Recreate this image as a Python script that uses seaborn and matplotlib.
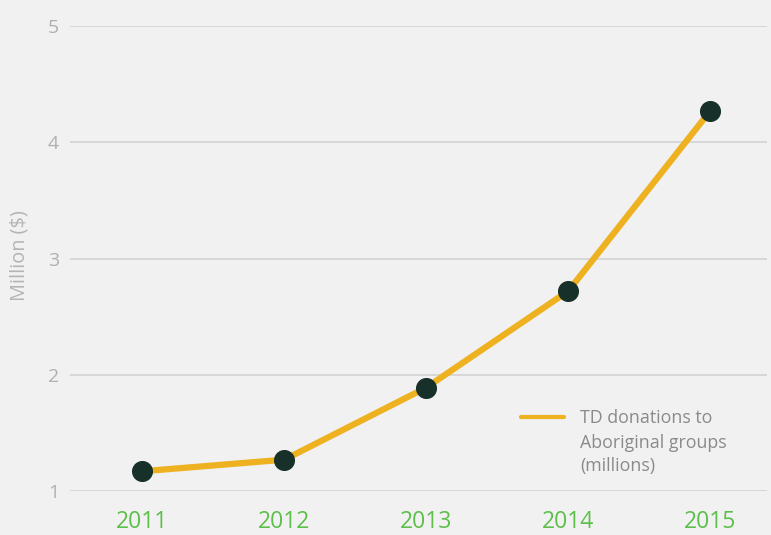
import matplotlib
matplotlib.use("Agg")
import matplotlib.pyplot as plt
import seaborn as sns
import pandas as pd

# data
years = [2011, 2012, 2013, 2014, 2015]
donations = [1.17, 1.27, 1.89, 2.72, 4.27]
y_ticks = [1, 2, 3, 4, 5]
legend_lines = ["TD donations to", "Aboriginal groups", "(millions)"]

df = pd.DataFrame({"year": years, "donations": donations})

sns.set_style("white")
plt.rcParams['font.family'] = ['Open Sans', 'DejaVu Sans']

bg = "#f1f1f1"
fig = plt.figure(figsize=(7.71, 5.35), dpi=100, facecolor=bg)
ax = fig.add_axes([0.0908, 0.0822, 0.904, 0.8692])
ax.set_facecolor(bg)

# gridlines
for t in y_ticks:
    ax.axhline(t, color="#d2d2d2", lw=1.2, zorder=0)

sns.lineplot(data=df, x="year", y="donations", ax=ax, color="#eeb11f", lw=4.5,
             label=legend_lines[0], zorder=2)
ax.scatter(years, donations, s=200, color="#17302a", zorder=3)

ax.set_xlim(2010.49, 2015.4)
ax.set_ylim(1, 5)
ax.set_xticks(years)
ax.set_xticklabels([str(y) for y in years], color="#5cbf4a", fontsize=16.5)
ax.set_yticks(y_ticks)
ax.set_yticklabels([str(t) for t in y_ticks], color="#b0b0b0", fontsize=14)
ax.tick_params(axis="x", length=0, pad=14)
ax.tick_params(axis="y", length=0, pad=8)
ax.set_xlabel("")
ax.set_ylabel("Million ($)", color="#b4b4b4", fontsize=14.3)
ax.yaxis.set_label_coords(-0.058, 0.507)
for s in ax.spines.values():
    s.set_visible(False)

# legend: handle next to the first line, rest of label below it
leg = ax.legend(loc="center left", bbox_to_anchor=(0.647, 0.157), frameon=False,
                fontsize=12.8, handlelength=2.4, handletextpad=0.9,
                borderpad=0, borderaxespad=0, labelcolor="#8a8a8a")
for line in leg.get_lines():
    line.set_linewidth(3)
ax.text(0.7317, 0.103, legend_lines[1], transform=ax.transAxes, va="center",
        ha="left", fontsize=12.8, color="#8a8a8a")
ax.text(0.7317, 0.054, legend_lines[2], transform=ax.transAxes, va="center",
        ha="left", fontsize=12.8, color="#8a8a8a")

fig.savefig("out.png", dpi=100, facecolor=bg)
